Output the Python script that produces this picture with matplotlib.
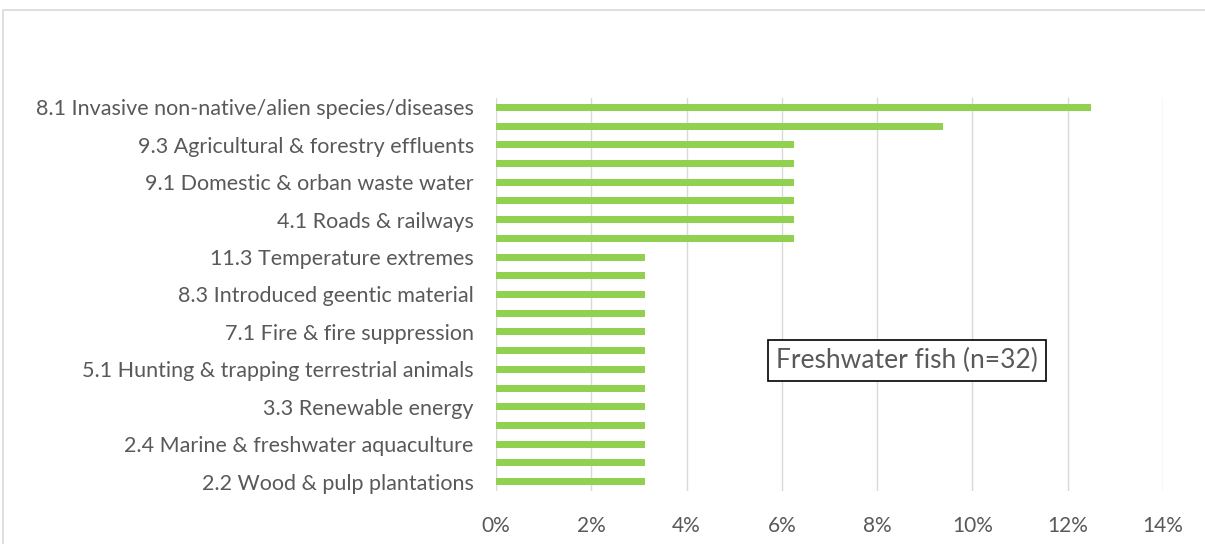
import numpy as np
import matplotlib.pyplot as plt
from matplotlib.patches import Rectangle

# categories, top to bottom (only every other label is readable in the source)
threats = ['8.1 Invasive non-native/alien species/diseases', '',
           '9.3 Agricultural & forestry effluents', '',
           '9.1 Domestic & orban waste water', '',
           '4.1 Roads & railways', '',
           '11.3 Temperature extremes', '',
           '8.3 Introduced geentic material', '',
           '7.1 Fire & fire suppression', '',
           '5.1 Hunting & trapping terrestrial animals', '',
           '3.3 Renewable energy', '',
           '2.4 Marine & freshwater aquaculture', '',
           '2.2 Wood & pulp plantations']
share = [12.5, 9.375, 6.25, 6.25, 6.25, 6.25, 6.25, 6.25,
         3.125, 3.125, 3.125, 3.125, 3.125, 3.125, 3.125, 3.125,
         3.125, 3.125, 3.125, 3.125, 3.125]
xticks = [0, 2, 4, 6, 8, 10, 12, 14]

plt.rcParams['font.family'] = ['Lato', 'DejaVu Sans']
fig = plt.figure(figsize=(12.05, 5.44), dpi=100)
ax = fig.add_axes([0.4116, 0.0974, 0.5535, 0.7225])

y = np.arange(len(threats))
ax.barh(y, share, height=0.37, color='#92d050', zorder=3)
ax.set_ylim(len(threats) - 0.5, -0.5)
ax.set_xlim(0, 14)
ax.set_yticks(y)
ax.set_yticklabels(threats, fontsize=15.5, color='#595959')
ax.set_xticks(xticks)
ax.set_xticklabels([f'{t}%' for t in xticks], fontsize=15, color='#595959')
ax.tick_params(length=0)
ax.tick_params(axis='y', pad=16)
ax.tick_params(axis='x', pad=18)
ax.grid(axis='x', color='#d9d9d9', linewidth=1, zorder=0)
for s in ax.spines.values():
    s.set_visible(False)

ax.text(0.616, 0.333, 'Freshwater fish (n=32)', transform=ax.transAxes,
        ha='center', va='center', fontsize=19, color='#595959', zorder=5,
        bbox=dict(boxstyle='square,pad=0.3', facecolor='white',
                  edgecolor='black', linewidth=1.2))

# outer chart frame
fig.patches.append(Rectangle((0.0025, -0.1), 1.1, 1.0816, transform=fig.transFigure,
                             fill=False, edgecolor='#d9d9d9', linewidth=1.2))

plt.savefig('out.png', dpi=100)
